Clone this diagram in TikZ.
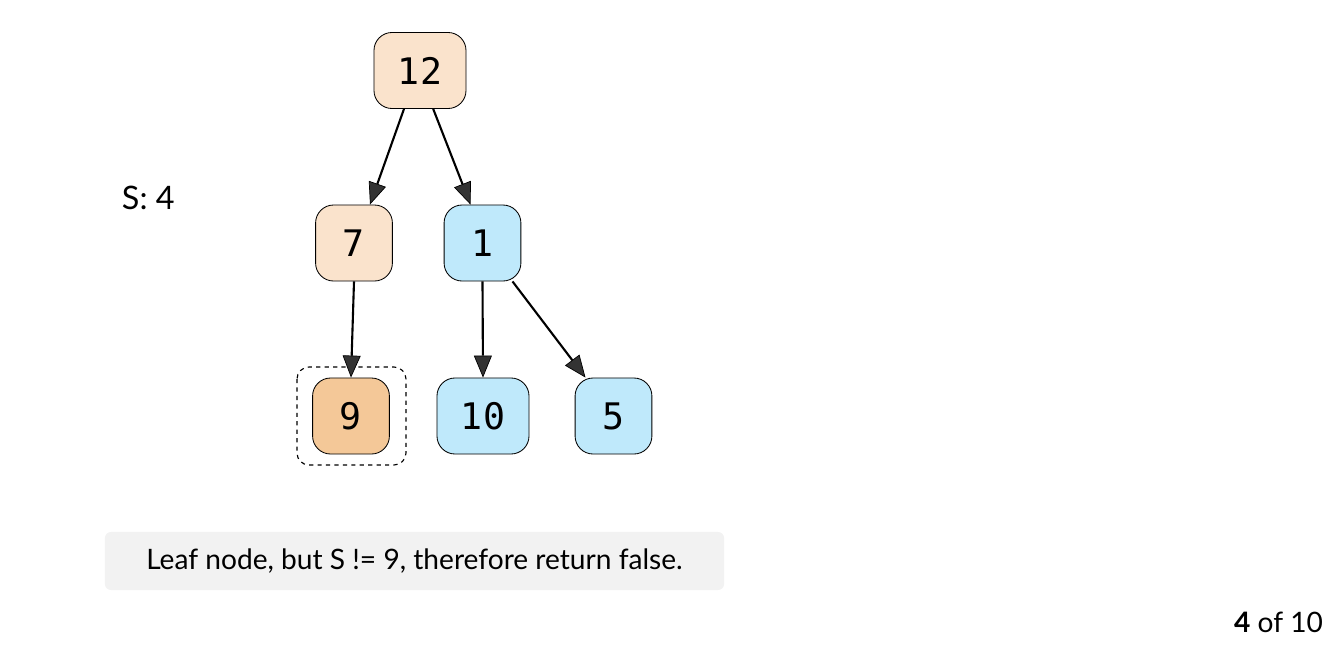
\documentclass[tikz,border=0pt]{standalone}
\usepackage{fontspec}
\setmainfont{Lato}
\setmonofont{DejaVu Sans Mono}
\usetikzlibrary{arrows.meta}
\definecolor{peach}{HTML}{FAE3CC}
\definecolor{peachdark}{HTML}{F4C898}
\definecolor{skyblue}{HTML}{BFE9FB}
\definecolor{notegray}{HTML}{F2F2F2}
\definecolor{tipgray}{HTML}{333333}

\begin{document}
\begin{tikzpicture}[x=0.025cm, y=-0.025cm,
  treenode/.style={draw=black, line width=0.6pt, rounded corners=0.45cm, minimum height=1.9cm, minimum width=1.92cm, inner sep=0pt, font=\ttfamily\fontsize{26}{26}\selectfont},
  edge/.style={line width=1.5pt, -{Triangle[length=0.55cm, width=0.45cm, fill=tipgray, line width=0.5pt]}}]
\useasboundingbox (0,0) rectangle (1344,652);
\node[treenode, fill=peach, minimum width=2.3cm] (n12) at (420,70.5) {12};
\node[treenode, fill=peach] (n7) at (354,243) {7};
\node[treenode, fill=skyblue] (n1) at (482.5,243) {1};
\node[treenode, fill=peachdark] (n9) at (351,416) {9};
\node[treenode, fill=skyblue, minimum width=2.3cm] (n10) at (483,416) {10};
\node[treenode, fill=skyblue] (n5) at (613.5,416) {5};
% highlight around the current leaf
\draw[dashed, line width=0.8pt, rounded corners=0.3cm] (297,367) rectangle (406,465);
% edges
\draw[edge] ([xshift=-0.4cm]n12.south) -- ([xshift=0.4cm]n7.north);
\draw[edge] ([xshift=0.33cm]n12.south) -- ([xshift=-0.3cm]n1.north);
\draw[edge] (n7.south) -- (n9.north);
\draw[edge] (n1.south) -- (n10.north);
\draw[edge] ([xshift=0.75cm]n1.south) -- ([xshift=-0.7cm]n5.north);
% labels
\node[font=\fontsize{23}{23}\selectfont, anchor=west] (sum) at (117,198) {S: 4};
\node[fill=notegray, rounded corners=0.15cm, minimum width=15.475cm, minimum height=1.45cm, font=\fontsize{20}{20}\selectfont] (note) at (414.5,561) {Leaf node, but S != 9, therefore return false.};
\node[font=\fontsize{20}{20}\selectfont, anchor=east] (page) at (1328,622) {\textbf{4} of 10};
\end{tikzpicture}
\end{document}
